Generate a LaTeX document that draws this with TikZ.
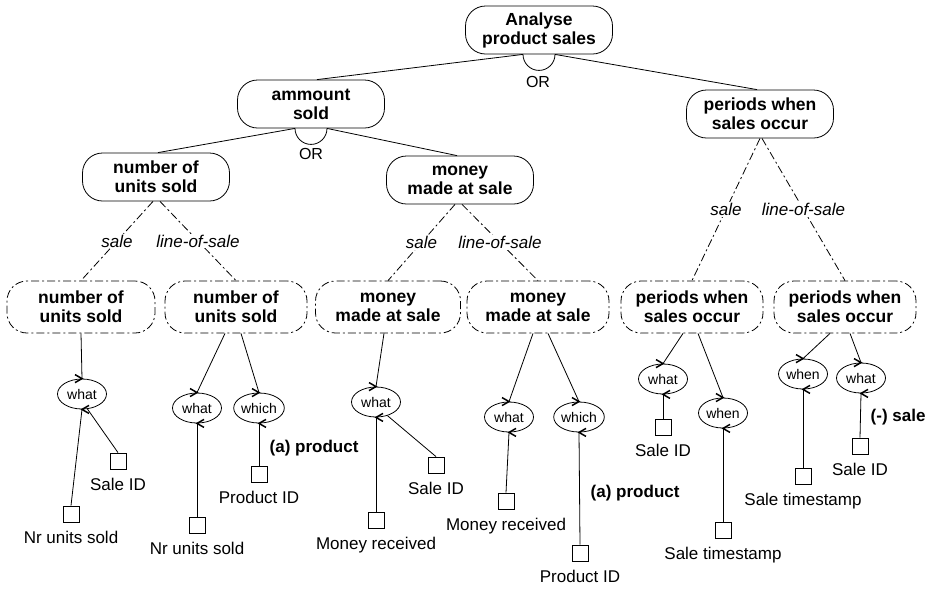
\documentclass[tikz,border=0pt]{standalone}
\usepackage{fontspec}
\setmainfont{Liberation Sans}
\usetikzlibrary{calc,shapes.geometric,decorations.markings}

\begin{document}
\begin{tikzpicture}[x=1pt,y=-1pt,line width=0.8pt,
    goal/.style={draw,rounded corners=20pt,minimum width=147pt,minimum height=48pt,align=center,inner sep=2pt,font=\bfseries\fontsize{17.5}{19}\selectfont},
    dashdot/.style={dash pattern=on 8pt off 3pt on 2pt off 3pt},
    subgoal/.style={goal,dashdot,minimum width=142pt,minimum height=52pt},
    rel/.style={fill=white,inner sep=1pt,font=\itshape\fontsize{17}{19}\selectfont},
    qword/.style={draw,ellipse,minimum width=49pt,minimum height=30pt,inner sep=0pt,font=\fontsize{14}{16}\selectfont},
    attr/.style={draw,minimum size=16pt,inner sep=0pt,label={[label distance=5pt,font=\fontsize{17}{19}\selectfont]below:#1}},
    note/.style={anchor=west,font=\bfseries\fontsize{17}{19}\selectfont},
    topchev/.style={postaction={decorate},decoration={markings,mark=at position 1 with {\pgftransformresetnontranslations
        \draw[solid,line width=1.5pt] (-7pt,4pt) -- (0pt,0pt) -- (-7pt,-4pt);}}},
    botchev/.style={postaction={decorate},decoration={markings,mark=at position 1 with {\pgftransformresetnontranslations
        \draw[solid,line width=1.5pt] (7pt,4pt) -- (0pt,0pt) -- (7pt,-4pt);}}}]
    \useasboundingbox (0,0) rectangle (928,590); % whole picture

    % goals
    \node[goal] (analyse) at (539,30) {Analyse\\product sales};
    \node[goal] (amount) at (311,104) {ammount\\sold};
    \node[goal] (periods) at (760,114) {periods when\\sales occur};
    \node[goal] (units) at (156,177) {number of\\units sold};
    \node[goal] (money) at (460,180) {money\\made at sale};

    % OR decompositions
    \coordinate (analyseL) at ($(analyse.south)+(-16,0)$);
    \coordinate (analyseR) at ($(analyse.south)+(16,0)$);
    \draw (analyseL) arc[start angle=180,end angle=360,radius=16pt];
    \node[font=\fontsize{16}{18}\selectfont] (or1) at (538,82) {OR};
    \draw (analyseL) -- ([xshift=6pt]amount.north);
    \draw (analyseR) -- ([xshift=-3pt]periods.north);
    \coordinate (amountL) at ($(amount.south)+(-16,0)$);
    \coordinate (amountR) at ($(amount.south)+(16,0)$);
    \draw (amountL) arc[start angle=180,end angle=360,radius=16pt];
    \node[font=\fontsize{16}{18}\selectfont] (or2) at (311,154) {OR};
    \draw (amountL) -- ([xshift=2pt]units.north);
    \draw (amountR) -- ([xshift=-3pt]money.north);

    % refinements per sale / line-of-sale
    \node[subgoal,minimum width=148pt] (unitsS) at (81,307) {number of\\units sold};
    \node[subgoal] (unitsL) at (236,307) {number of\\units sold};
    \node[subgoal,minimum width=145pt] (moneyS) at (388,307) {money\\made at sale};
    \node[subgoal] (moneyL) at (538,307) {money\\made at sale};
    \node[subgoal] (periodsS) at (692,307) {periods when\\sales occur};
    \node[subgoal] (periodsL) at (845,307) {periods when\\sales occur};

    \draw[dashdot] ([xshift=-3pt]units.south) -- node[rel] {sale} (unitsS.north);
    \draw[dashdot] ([xshift=4pt]units.south) -- node[rel] {line-of-sale} (unitsL.north);
    \draw[dashdot] ([xshift=-5pt]money.south) -- node[rel] {sale} (moneyS.north);
    \draw[dashdot] ([xshift=2pt]money.south) -- node[rel] {line-of-sale} (moneyL.north);
    \draw[dashdot] (periods.south) -- node[rel] {sale} (periodsS.north);
    \draw[dashdot] ([xshift=2pt]periods.south) -- node[rel] {line-of-sale} (periodsL.north);

    % question words
    \node[qword] (whatA) at (82,394) {what};
    \node[qword] (whatB) at (197,408) {what};
    \node[qword] (whichB) at (259,408) {which};
    \node[qword] (whatC) at (376,402) {what};
    \node[qword] (whatD) at (509,417) {what};
    \node[qword] (whichD) at (579,417) {which};
    \node[qword] (whatE) at (663,379) {what};
    \node[qword] (whenE) at (723,413) {when};
    \node[qword] (whenF) at (803,374) {when};
    \node[qword] (whatF) at (861,378) {what};

    \draw[topchev] (unitsS.south) -- (whatA.north);
    \draw[topchev] ([xshift=-11pt]unitsL.south) -- (whatB.north);
    \draw[topchev] ([xshift=5pt]unitsL.south) -- (whichB.north);
    \draw[topchev] ([xshift=-4pt]moneyS.south) -- (whatC.north);
    \draw[topchev] ([xshift=-5pt]moneyL.south) -- (whatD.north);
    \draw[topchev] ([xshift=10pt]moneyL.south) -- (whichD.north);
    \draw[topchev] ([xshift=-9pt]periodsS.south) -- (whatE.north);
    \draw[topchev] ([xshift=6pt]periodsS.south) -- (whenE.north);
    \draw[topchev] ([xshift=-15pt]periodsL.south) -- (whenF.north);
    \draw[topchev] ([xshift=5pt]periodsL.south) -- (whatF.north);

    % attributes
    \node[attr=Sale ID] (saleA) at (118,461) {};
    \node[attr=Nr units sold] (nrA) at (71,514) {};
    \node[attr=Nr units sold] (nrB) at (197,525) {};
    \node[attr=Product ID] (prodB) at (259,474) {};
    \node[attr=Sale ID] (saleC) at (436,465) {};
    \node[attr=Money received] (moneyRC) at (376,520) {};
    \node[attr=Money received] (moneyRD) at (506,501) {};
    \node[attr=Product ID] (prodD) at (580,553) {};
    \node[attr=Sale ID] (saleE) at (663,427) {};
    \node[attr=Sale timestamp] (timeE) at (723,530) {};
    \node[attr=Sale timestamp] (timeF) at (803,476) {};
    \node[attr=Sale ID] (saleF) at (860,446) {};

    \draw[botchev] (nrA.north) -- (whatA.south);
    \draw (saleA.north) -- (whatA.-70);
    \draw[botchev] (nrB.north) -- (whatB.south);
    \draw[botchev] (prodB.north) -- (whichB.south);
    \draw[botchev] (moneyRC.north) -- (whatC.south);
    \draw (saleC.north) -- (whatC.-50);
    \draw[botchev] (moneyRD.north) -- (whatD.south);
    \draw[botchev] (prodD.north) -- (whichD.south);
    \draw[botchev] (saleE.north) -- (whatE.south);
    \draw[botchev] (timeE.north) -- (whenE.south);
    \draw[botchev] (timeF.north) -- (whenF.south);
    \draw[botchev] (saleF.north) -- (whatF.south);

    % annotations
    \node[note] (noteB) at (266,448) {(a) product};
    \node[note] (noteD) at (587,493) {(a) product};
    \node[note] (noteF) at (867,417) {(-) sale};
\end{tikzpicture}
\end{document}
